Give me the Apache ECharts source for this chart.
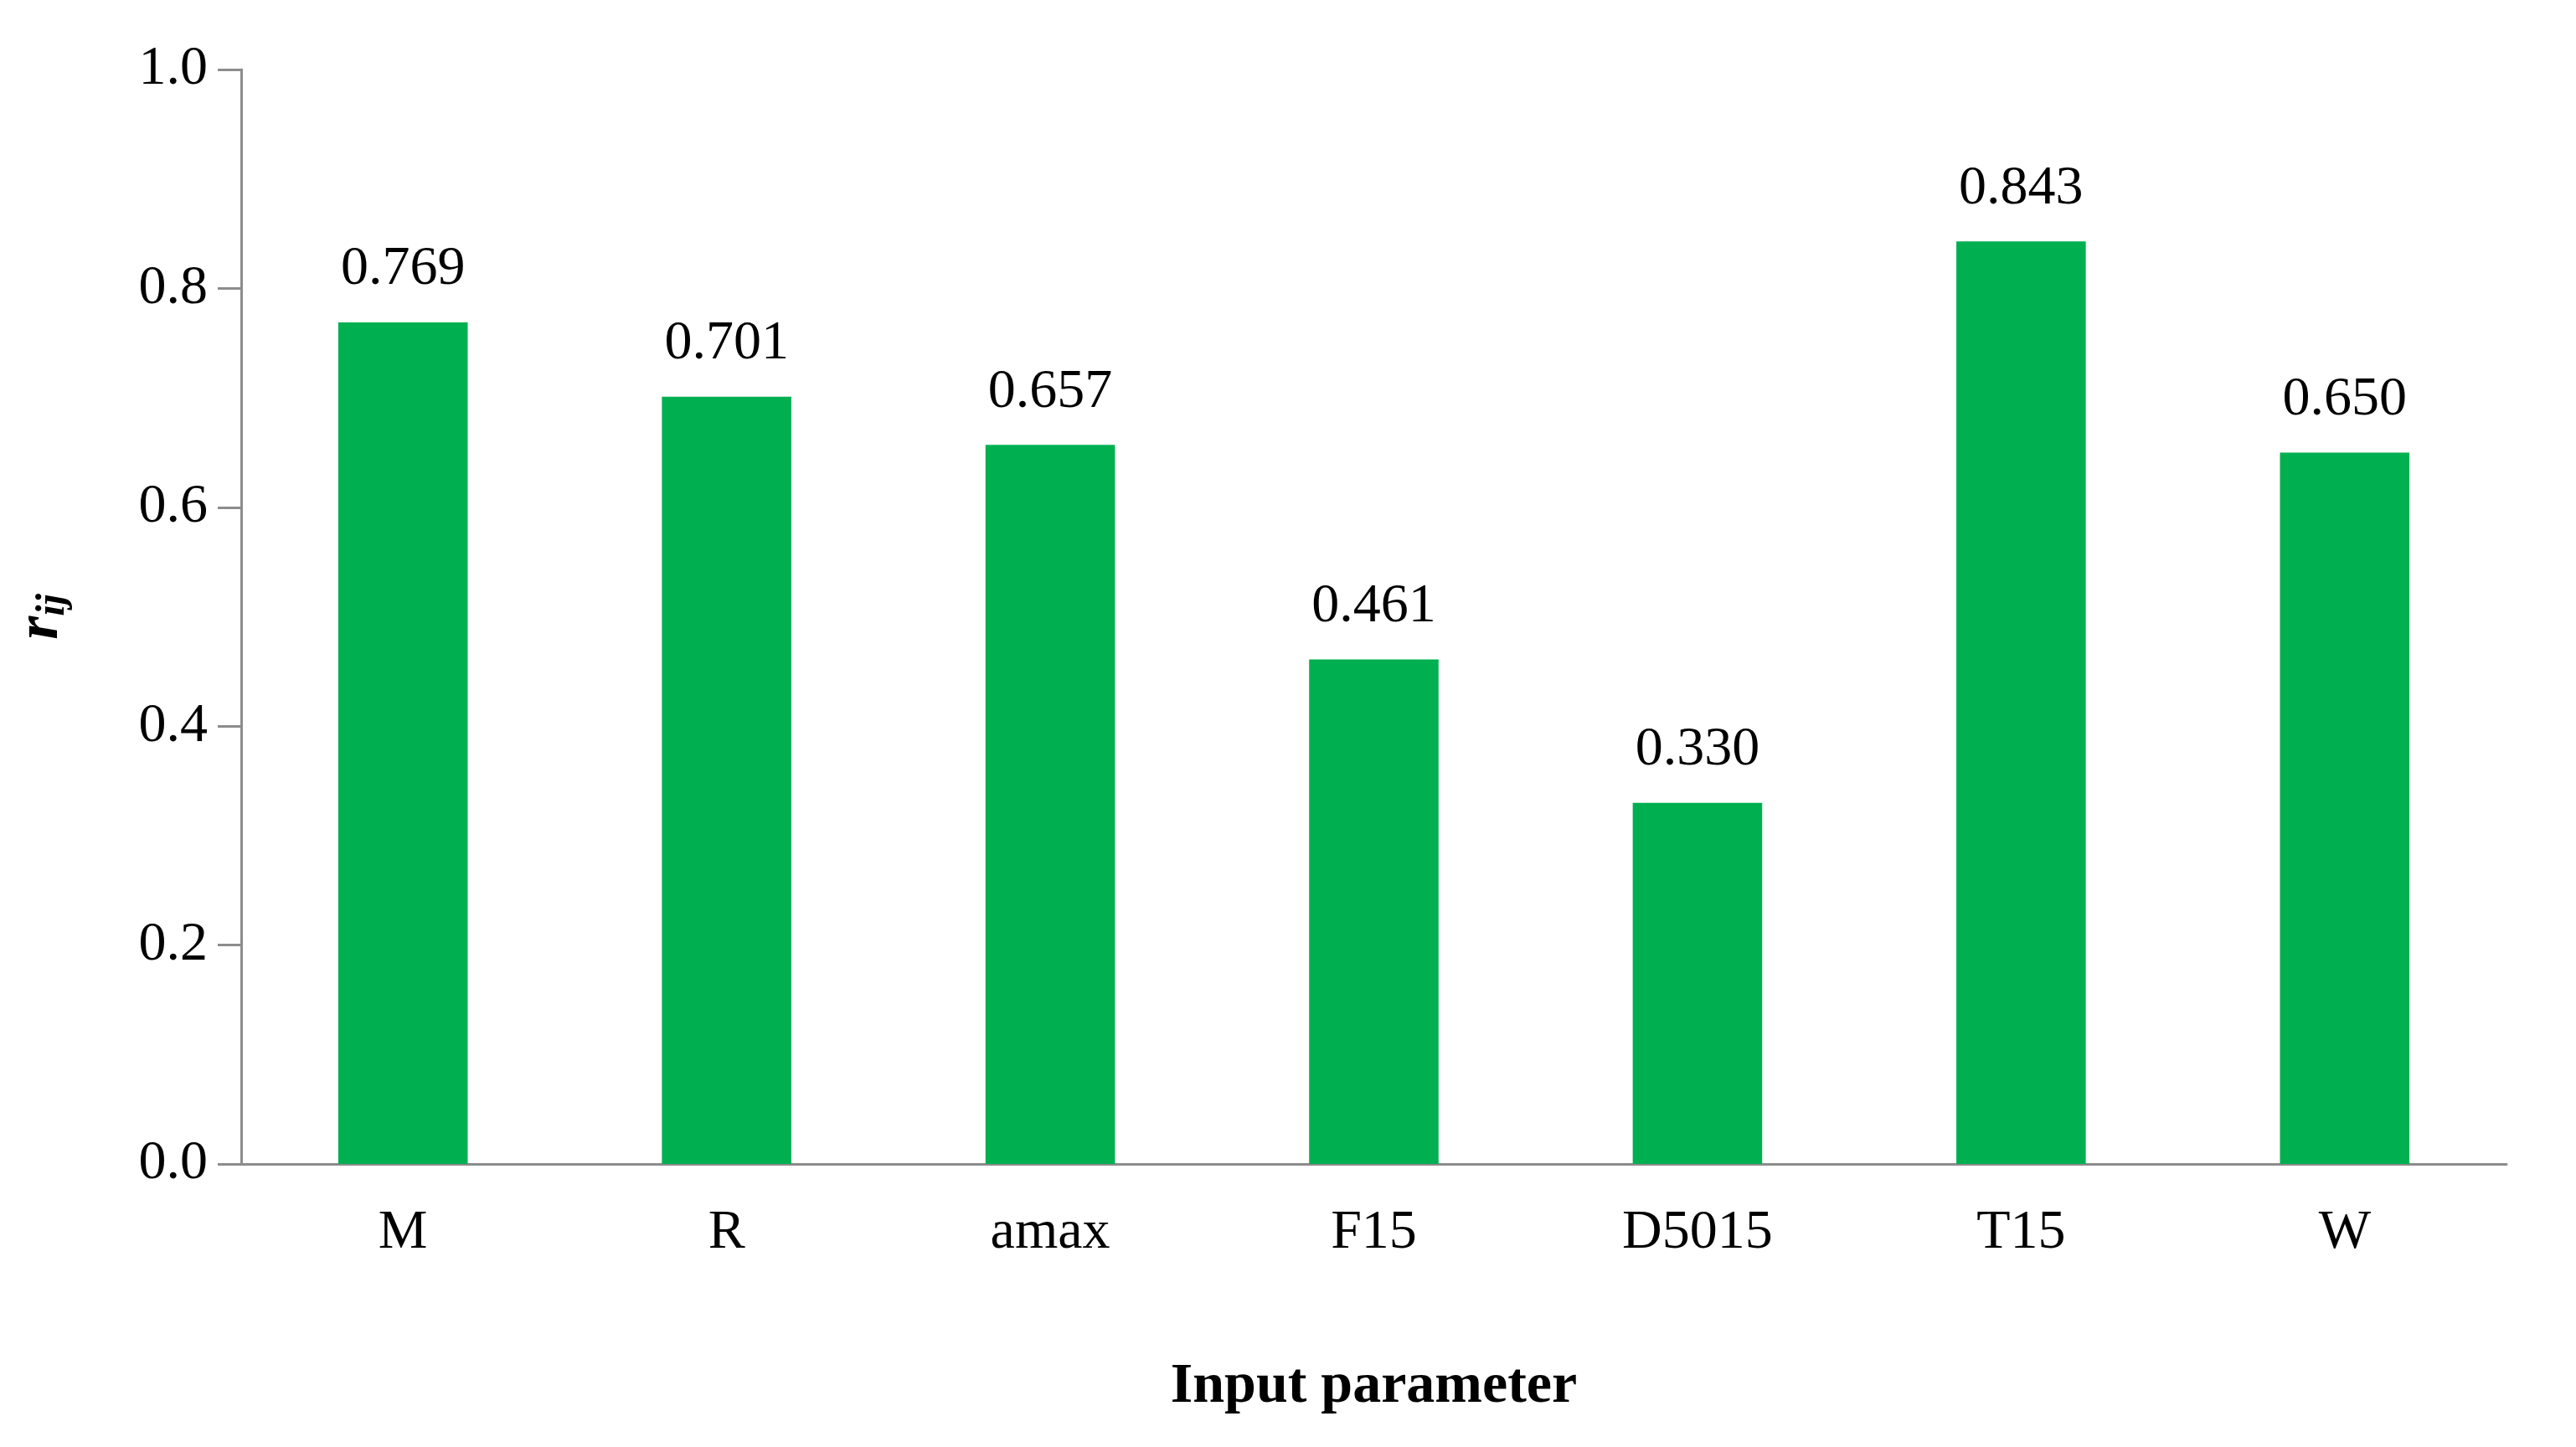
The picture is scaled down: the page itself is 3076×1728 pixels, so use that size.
<!DOCTYPE html>
<html>
<head>
<meta charset="utf-8">
<script src="https://cdn.jsdelivr.net/npm/echarts@6/dist/echarts.min.js"></script>
<style>
  html, body { margin: 0; padding: 0; background: #fff; }
  #chart { width: 3076px; height: 1728px; }
</style>
</head>
<body>
<div id="chart"></div>
<script>
  var categories = ['M', 'R', 'amax', 'F15', 'D5015', 'T15', 'W'];
  var values = [0.769, 0.701, 0.657, 0.461, 0.330, 0.843, 0.650];
  var yTicks = [0, 0.2, 0.4, 0.6, 0.8, 1.0];

  var font = '"Liberation Serif", "DejaVu Serif", serif';
  var axisColor = '#8c8c8c';

  var chart = echarts.init(document.getElementById('chart'));
  chart.setOption({
    animation: false,
    grid: { left: 288, right: 83, top: 83, bottom: 338 },
    xAxis: {
      type: 'category',
      data: categories,
      name: 'Input parameter',
      nameLocation: 'middle',
      nameGap: 232,
      nameTextStyle: { fontFamily: font, fontSize: 68, fontWeight: 'bold', color: '#000' },
      axisLine: { lineStyle: { color: axisColor, width: 3 } },
      axisTick: { show: false },
      axisLabel: { fontFamily: font, fontSize: 66, color: '#000', margin: 50 }
    },
    yAxis: {
      type: 'value',
      min: yTicks[0],
      max: yTicks[yTicks.length - 1],
      interval: 0.2,
      name: '{r|r}{s|ij}',
      nameLocation: 'middle',
      nameGap: 200,
      nameRotate: 90,
      nameTextStyle: {
        rich: {
          r: { fontFamily: font, fontSize: 72, fontWeight: 'bold', fontStyle: 'italic', color: '#000' },
          s: { fontFamily: font, fontSize: 48, fontWeight: 'bold', fontStyle: 'italic', color: '#000', padding: [30, 0, 0, 0] }
        }
      },
      splitLine: { show: false },
      axisLine: { show: true, lineStyle: { color: axisColor, width: 3 } },
      axisTick: { show: true, length: 28, lineStyle: { color: axisColor, width: 3 } },
      axisLabel: {
        fontFamily: font, fontSize: 66, color: '#000', margin: 40,
        formatter: function (v) { return v.toFixed(1); }
      }
    },
    series: [{
      type: 'bar',
      data: values,
      barWidth: '40%',
      itemStyle: { color: '#00B050' },
      label: {
        show: true,
        position: 'top',
        distance: 30,
        fontFamily: font,
        fontSize: 66,
        color: '#000',
        formatter: function (p) { return p.value.toFixed(3); }
      }
    }]
  });
</script>
</body>
</html>
